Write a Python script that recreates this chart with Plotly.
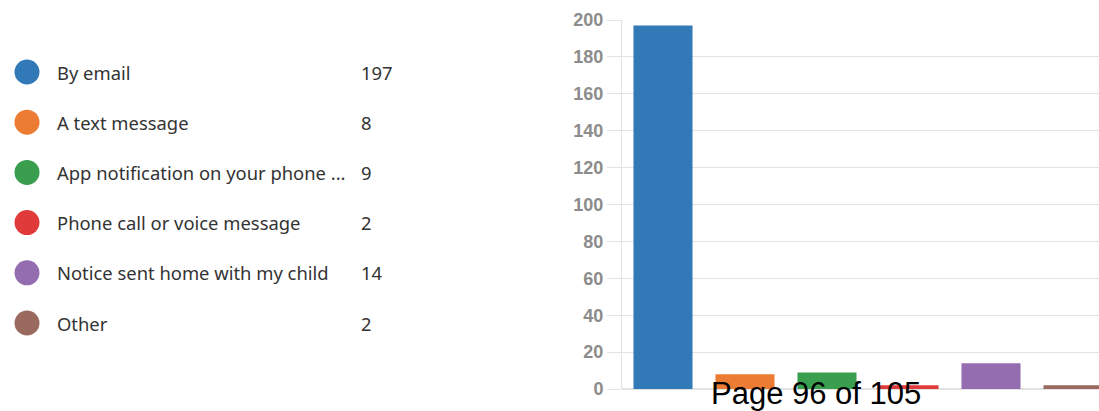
import plotly.graph_objects as go

# Survey responses: preferred way to receive notices
categories = [
    "By email",
    "A text message",
    "App notification on your phone ...",
    "Phone call or voice message",
    "Notice sent home with my child",
    "Other",
]
counts = [197, 8, 9, 2, 14, 2]
colors = ["#3279b8", "#ec7b34", "#3a9e4f", "#e03a3a", "#946cb0", "#9a6a5e"]
y_ticks = [0, 20, 40, 60, 80, 100, 120, 140, 160, 180, 200]
footer = "Page 96 of 105"

W, H = 1099, 411
M_T, M_B = 20, 22
AXIS_X0 = 622  # left edge of the bar chart area, px

GRID = "#e2e2e2"

fig = go.Figure()

# Bar chart (right side)
fig.add_trace(go.Bar(
    x=list(range(len(categories))),
    y=counts,
    marker=dict(color=colors, line=dict(width=0)),
    hoverinfo="skip",
    showlegend=False,
    xaxis="x", yaxis="y",
))

# Legend list (left side): coloured dots with label and count
rows = list(range(len(categories)))
fig.add_trace(go.Scatter(
    x=[27] * len(rows),
    y=rows,
    mode="markers",
    marker=dict(color=colors, size=25, line=dict(width=0)),
    hoverinfo="skip",
    showlegend=False,
    xaxis="x2", yaxis="y2",
))

LIST_FONT = dict(family="Noto Sans", size=18.4, color="#333333")
annotations = []
for i, (label, n) in enumerate(zip(categories, counts)):
    annotations.append(dict(
        x=55, y=i, xref="x2", yref="y2", text=label, showarrow=False,
        xanchor="left", yanchor="middle", font=LIST_FONT,
    ))
    annotations.append(dict(
        x=359, y=i, xref="x2", yref="y2", text=str(n), showarrow=False,
        xanchor="left", yanchor="middle", font=LIST_FONT,
    ))

annotations.append(dict(
    x=816 / W, y=-0.012, xref="paper", yref="paper", text=footer,
    showarrow=False, xanchor="center", yanchor="middle",
    font=dict(family="Liberation Sans", size=31, color="#000000"),
))

# Row placement for the legend list, in px from the top of the plot area
ROW0, ROW_STEP = 72, 50.2
top_val = -(ROW0 - M_T) / ROW_STEP
bot_val = (H - M_B - ROW0) / ROW_STEP

cat_px = 82.0
x_end = -0.5 + (W - AXIS_X0) / cat_px

fig.update_layout(
    width=W, height=H,
    margin=dict(l=0, r=0, t=M_T, b=M_B),
    paper_bgcolor="white", plot_bgcolor="white",
    bargap=0.28,
    annotations=annotations,
    xaxis=dict(
        domain=[AXIS_X0 / W, 1], range=[-0.5, x_end],
        showticklabels=False, showgrid=False, zeroline=False,
        showline=False, ticks="", fixedrange=True,
    ),
    yaxis=dict(
        range=[0, 200], tickvals=y_ticks,
        showgrid=True, gridcolor=GRID, gridwidth=1,
        zeroline=True, zerolinecolor=GRID, zerolinewidth=2,
        showline=True, linecolor=GRID, linewidth=1,
        ticks="outside", ticklen=14, tickcolor=GRID, tickwidth=1,
        tickfont=dict(family="Liberation Sans", size=18, color="#8c8c8c",
                      weight="bold"),
        fixedrange=True,
    ),
    xaxis2=dict(
        domain=[0, 0.5], range=[0, W * 0.5], anchor="y2",
        visible=False, fixedrange=True,
    ),
    yaxis2=dict(
        domain=[0, 1], range=[bot_val, top_val], anchor="x2",
        visible=False, fixedrange=True,
    ),
)

fig.write_html("out.html")
